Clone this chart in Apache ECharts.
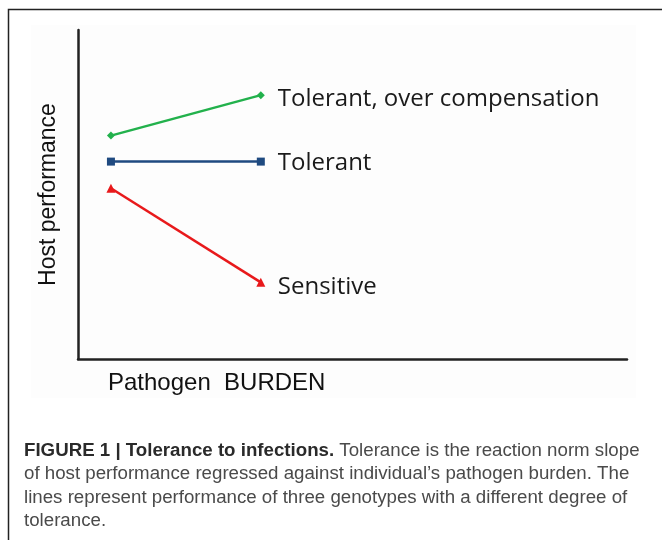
<!doctype html>
<html lang="en">
  <head>
    <meta charset="utf-8">
    <script type="text/javascript" src="https://cdn.jsdelivr.net/npm/echarts/dist/echarts.min.js"></script>
    <title>Tolerance to infections</title>
    <style>
      html, body {margin:0;padding:0;background:#fff;}
      #container {width:662px;height:540px;}
    </style>
  </head>
  <body>
    <div id="container"></div>
    <script type="text/javascript">
      // pathogen burden: low / high
      var burden = [0.60, 3.33];
      // host performance for the three genotypes
      var overComp = [6.79, 8.02];
      var tolerant = [6.00, 6.00];
      var sensitive = [5.19, 2.33];
      var seriesNames = ['Tolerant, over compensation', 'Tolerant', 'Sensitive'];
      var captionLines = [
        ['FIGURE 1 | Tolerance to infections.', ' Tolerance is the reaction norm slope'],
        ['', 'of host performance regressed against individual\u2019s pathogen burden. The'],
        ['', 'lines represent performance of three genotypes with a different degree of'],
        ['', 'tolerance.']
      ];

      function pairs(ys){
        return ys.map((y,i) => {return [burden[i], y]});
      }

      var dom = document.getElementById("container");
      var myChart = echarts.init(dom);

      var captionText = captionLines.map(l => {
        return (l[0] ? '{b|'+l[0]+'}' : '') + '{n|'+l[1]+'}';
      }).join('\n');

      function lineSeries(name, ys, color, symbol, size, dy){
        return {
          name: name,
          type: 'line',
          data: pairs(ys),
          symbol: symbol,
          symbolSize: size,
          lineStyle: {color: color, width: 2.5},
          itemStyle: {color: color},
          endLabel: {
            show: true,
            formatter: name,
            distance: 17,
            offset: [0, dy],
            color: '#1a1a1a',
            fontFamily: 'Open Sans',
            fontSize: 24
          },
          animation: false
        };
      }

      var option = {
        backgroundColor: '#ffffff',
        title: {
          left: 19, top: 434,
          text: captionText,
          textStyle: {
            fontWeight: 'normal',
            rich: {
              b: {fontFamily: 'Liberation Sans', fontWeight: 'bold', fontSize: 18.7, color: '#2a2a2a', lineHeight: 23.5},
              n: {fontFamily: 'Liberation Sans', fontWeight: 'normal', fontSize: 18.7, color: '#4a4a4a', lineHeight: 23.5}
            }
          }
        },
        graphic: [
          {type: 'rect', silent: true, z: -10,
           shape: {x: 8.5, y: 9.5, width: 700, height: 600},
           style: {fill: 'none', stroke: '#222', lineWidth: 1.5}},
          {type: 'rect', silent: true, z: -9,
           shape: {x: 31, y: 25, width: 605, height: 373},
           style: {fill: '#fdfdfd'}},
          {type: 'text', left: 108, top: 371,
           style: {text: 'Pathogen  BURDEN', font: '24px "Liberation Sans"', fill: '#111'}}
        ],
        grid: {left: 78, right: 35, top: 30, bottom: 181},
        xAxis: {
          type: 'value', min: 0, max: 10,
          axisLine: {show: true, lineStyle: {color: '#222', width: 2.5}},
          axisTick: {show: false}, axisLabel: {show: false}, splitLine: {show: false}
        },
        yAxis: {
          type: 'value', min: 0, max: 10,
          name: 'Host performance', nameLocation: 'middle', nameGap: 18,
          nameTextStyle: {fontFamily: 'Liberation Sans', fontSize: 23, color: '#111'},
          axisLine: {show: true, lineStyle: {color: '#222', width: 2.5}},
          axisTick: {show: false}, axisLabel: {show: false}, splitLine: {show: false}
        },
        series: [
          lineSeries(seriesNames[0], overComp, '#22b14c', 'diamond', 8, 4),
          lineSeries(seriesNames[1], tolerant, '#1f4a80', 'rect', 8, 2),
          lineSeries(seriesNames[2], sensitive, '#e8191b', 'triangle', 9, 5)
        ]
      };

      if (option && typeof option === "object") {
          myChart.setOption(option, true);
      }
    </script>
  </body>
</html>
